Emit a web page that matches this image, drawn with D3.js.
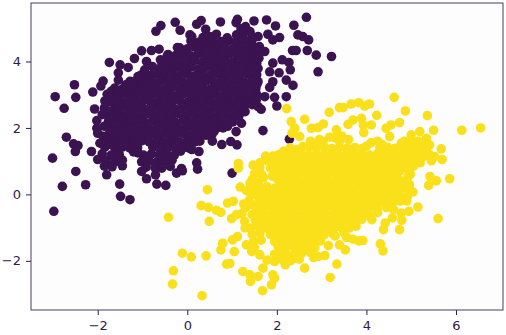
<!DOCTYPE html>
<html>
<head>
<meta charset="utf-8">
<script src="https://cdn.jsdelivr.net/npm/d3@7"></script>
<style>
  html, body { margin: 0; padding: 0; background: #fff; }
  svg { display: block; }
</style>
</head>
<body>
<div id="chart"></div>
<script>
// tick labels
const xTicks = [-2, 0, 2, 4, 6];
const yTicks = [-2, 0, 2, 4];

// class 0, stragglers
const purpleEdge = [
  [-2.95,2.94],[-2.75,2.59],[-2.52,3.30],[-2.49,2.92],[-2.11,3.08],[-2.07,2.57],[-1.88,3.41],[-1.93,3.26],
  [-1.74,3.97],[-1.50,3.90],[-1.54,3.66],[-1.32,3.82],[-1.18,4.09],[-1.02,4.32],[-0.91,4.00],[-0.80,4.33],
  [-0.63,4.37],[-0.70,4.91],[-0.59,5.08],[-0.27,5.18],[-0.16,4.94],[0.21,5.12],[0.31,5.23],[0.41,4.97],
  [0.74,5.19],[1.09,5.17],[1.12,5.27],[0.89,4.71],[0.65,4.82],[0.06,4.80],[-1.24,3.39],[-1.54,3.44],
  [-2.70,1.72],[-2.54,1.52],[-2.44,1.47],[-2.50,1.29],[-3.01,1.09],[-2.14,1.29],[-2.02,1.99],[-2.02,2.22],
  [-1.95,1.54],[-2.00,1.84],[0.56,1.60],[0.77,1.50],[1.11,1.49],[0.97,1.59],[1.09,1.89],[1.21,2.14],
  [1.29,2.49],[0.26,1.29],[0.21,0.95],[-0.13,0.78],[-2.49,0.69],[-2.79,0.24],[-2.27,0.29],[-1.80,0.59],
  [-1.51,0.31],[-1.49,-0.06],[-1.28,-0.16],[-2.98,-0.51],[-0.91,0.47],[-1.02,0.69],[-0.71,0.59],[-0.68,0.31],
  [-0.48,0.27],[-0.57,0.79],[-0.24,0.64],[-0.11,0.71],[0.23,0.76],[1.00,0.64],[2.66,5.33],[1.77,5.25],
  [1.97,5.07],[2.38,5.09],[1.49,5.22],[2.47,4.80],[2.58,4.75],[2.71,4.65],[1.80,4.82],[2.06,4.72],
  [1.91,4.65],[1.58,4.75],[2.35,4.33],[2.43,4.33],[2.68,4.33],[2.88,4.19],[3.22,4.15],[2.92,3.69],
  [1.73,4.30],[1.61,4.45],[2.12,4.05],[1.91,3.95],[2.27,3.97],[2.30,3.75],[2.05,3.66],[1.84,3.69],
  [2.21,3.44],[2.36,3.28],[1.91,3.39],[1.84,3.22],[1.95,2.92],[2.21,2.94],[2.00,2.66],[1.65,2.56],
  [1.69,1.92],[2.28,1.66],[1.54,2.84],[1.58,2.64],[1.73,2.94],[1.50,3.44],[1.50,3.84]
];

// class 0, the solid middle
const purpleCore = [
  [0.08,4.62],[0.25,4.58],[0.42,4.63],[0.59,4.57],[0.76,4.6],[0.93,4.63],[1.1,4.58],[1.27,4.62],[1.44,4.6],
  [-0.17,4.41],[0,4.38],[0.17,4.43],[0.34,4.39],[0.51,4.42],[0.68,4.37],[0.85,4.42],[1.02,4.38],[1.19,4.41],[1.36,4.39],[1.52,4.41],
  [-0.43,4.21],[-0.26,4.18],[-0.09,4.22],[0.08,4.17],[0.25,4.23],[0.42,4.19],[0.59,4.21],[0.76,4.18],[0.93,4.22],[1.1,4.19],[1.27,4.21],[1.44,4.18],[1.56,4.22],
  [-0.51,4.01],[-0.34,3.98],[-0.17,4.02],[0,3.99],[0.17,4.03],[0.34,3.98],[0.51,4.02],[0.68,3.99],[0.85,4.01],[1.02,3.98],[1.19,4.02],[1.36,3.99],[1.52,4.03],
  [-0.6,3.81],[-0.43,3.78],[-0.26,3.82],[-0.09,3.79],[0.08,3.83],[0.25,3.78],[0.42,3.82],[0.59,3.79],[0.76,3.81],[0.93,3.78],[1.1,3.82],[1.27,3.79],[1.44,3.81],[1.58,3.79],
  [-1.02,3.6],[-0.85,3.57],[-0.68,3.62],[-0.51,3.58],[-0.34,3.61],[-0.17,3.58],[0,3.62],[0.17,3.57],[0.34,3.6],[0.51,3.58],[0.68,3.62],[0.85,3.58],[1.02,3.61],[1.19,3.59],[1.36,3.62],[1.54,3.58],
  [-1.28,3.4],[-1.11,3.38],[-0.94,3.42],[-0.77,3.38],[-0.6,3.41],[-0.43,3.38],[-0.26,3.42],[-0.09,3.37],[0.08,3.41],[0.25,3.38],[0.42,3.42],[0.59,3.38],[0.76,3.41],[0.93,3.38],[1.1,3.42],[1.27,3.38],[1.44,3.41],[1.58,3.39],
  [-1.62,3.2],[-1.45,3.17],[-1.28,3.21],[-1.19,3.18],[-1.02,3.22],[-0.85,3.18],[-0.68,3.21],[-0.51,3.17],[-0.34,3.22],[-0.17,3.18],[0,3.21],[0.17,3.18],[0.34,3.22],[0.51,3.17],[0.68,3.21],[0.85,3.18],[1.02,3.22],[1.19,3.18],[1.36,3.21],[1.53,3.18],
  [-1.79,3.01],[-1.62,2.98],[-1.45,3.02],[-1.28,2.97],[-1.11,3.01],[-0.94,2.98],[-0.77,3.02],[-0.6,2.98],[-0.43,3.01],[-0.26,2.97],[-0.09,3.02],[0.08,2.98],[0.25,3.01],[0.42,2.98],[0.59,3.02],[0.76,2.97],[0.93,3.01],[1.1,2.98],[1.27,3.02],[1.44,2.98],[1.55,3.0],
  [-1.84,2.81],[-1.7,2.78],[-1.53,2.82],[-1.36,2.78],[-1.19,2.81],[-1.02,2.77],[-0.85,2.82],[-0.68,2.78],[-0.51,2.81],[-0.34,2.78],[-0.17,2.82],[0,2.77],[0.17,2.81],[0.34,2.78],[0.51,2.82],[0.68,2.78],[0.85,2.81],[1.02,2.78],[1.19,2.82],[1.36,2.79],
  [-1.85,2.6],[-1.62,2.57],[-1.45,2.62],[-1.28,2.58],[-1.11,2.61],[-0.94,2.57],[-0.77,2.62],[-0.6,2.58],[-0.43,2.61],[-0.26,2.57],[-0.09,2.62],[0.08,2.58],[0.25,2.61],[0.42,2.58],[0.59,2.62],[0.76,2.58],[0.93,2.61],[1.1,2.58],[1.18,2.62],
  [-1.8,2.41],[-1.7,2.38],[-1.53,2.42],[-1.36,2.38],[-1.19,2.41],[-1.02,2.37],[-0.85,2.42],[-0.68,2.38],[-0.51,2.41],[-0.34,2.37],[-0.17,2.42],[0,2.38],[0.17,2.41],[0.34,2.37],[0.51,2.4],[0.68,2.38],[0.85,2.41],[1.02,2.38],
  [-1.76,2.2],[-1.62,2.17],[-1.45,2.22],[-1.28,2.18],[-1.11,2.21],[-0.94,2.17],[-0.77,2.22],[-0.6,2.18],[-0.43,2.21],[-0.26,2.17],[-0.09,2.22],[0.08,2.18],[0.25,2.21],[0.42,2.18],[0.59,2.22],[0.76,2.18],[0.93,2.21],[1.02,2.18],
  [-1.74,2.0],[-1.53,1.97],[-1.36,2.02],[-1.19,1.98],[-1.02,2.01],[-0.85,1.97],[-0.68,2.02],[-0.51,1.98],[-0.34,2.01],[-0.17,1.97],[0,2.02],[0.17,1.98],[0.34,2.01],[0.51,1.98],[0.66,2.0],
  [-1.75,1.81],[-1.62,1.78],[-1.45,1.82],[-1.28,1.78],[-1.11,1.81],[-0.94,1.77],[-0.77,1.82],[-0.6,1.78],[-0.43,1.81],[-0.26,1.78],[-0.09,1.82],[0.08,1.78],[0.25,1.81],[0.42,1.78],[0.55,1.8],
  [-1.82,1.6],[-1.53,1.58],[-1.36,1.62],[-1.19,1.58],[-1.02,1.61],[-0.85,1.58],[-0.68,1.62],[-0.51,1.57],[-0.34,1.6],[-0.17,1.57],[0,1.61],[0.17,1.58],[0.28,1.6],
  [-1.84,1.42],[-1.62,1.4],[-1.45,1.42],[-1.28,1.39],[-1.11,1.41],[-0.77,1.42],[-0.6,1.38],[-0.43,1.41],[-0.26,1.38],[-0.09,1.41],[0.04,1.39],
  [-1.9,1.22],[-1.7,1.18],[-1.52,1.2],[-0.98,1.18],[-0.8,1.22],[-0.63,1.19],[-0.46,1.21],[-0.29,1.18],
  [-2.0,1.05],[-1.82,1.01],[-1.62,0.98],[-1.45,1.03],[-1.02,0.98],[-0.85,1.01],[-0.68,0.97],[-0.51,1.0],[-0.34,1.03],
  [-1.85,0.85],[-1.68,0.83],[-1.45,0.86],[-0.92,0.82],[-0.72,0.8],[-0.38,0.84]
];

// class 0, points that close the remaining gaps
const purpleGaps = [
  [-1.55,2.5],[-1.72,2.5],[-1.55,2.3],[-1.72,2.3],[-1.55,2.7],[-1.72,2.9],[-1.55,2.9],[-1.7,3.1],[-1.53,3.1],
  [-1.37,3.1],[-1.37,3.3],[-1.2,3.3],[-1.03,3.5],[-1.7,2.1],[-1.55,2.1],[-1.65,1.9],[-1.48,1.9],[-1.65,1.7],
  [-1.4,1.7],[-1.7,1.5],[-1.45,1.5],[-1.2,1.5],[-1.88,1.75],[-1.85,2.05],[-1.9,2.4],[-1.2,1.28],[-1.1,1.25],
  [0.1,4.75],[0.35,4.72],[0.5,4.75],[1.1,4.8],[1.25,4.85],[1.4,4.9],[1.3,5.05],[1.2,4.98],[1.45,4.75],[1.25,4.7],
  [-0.22,4.42],[-0.6,4.05],[-0.78,3.85],[-0.95,3.75],[-1.1,3.55],[-0.45,4.15],[-0.75,3.65],[-0.15,1.3],[0.1,1.35],
  [0.6,1.9],[0.8,2.0],[0.9,2.05],[1.15,2.35],[1.3,2.7],[1.45,2.7],[1.55,3.3],[1.55,3.6],[1.55,3.95],[1.6,4.1]
];

// class 1, stragglers
const yellowEdge = [
  [2.22,2.58],[2.32,2.19],[2.40,1.99],[2.51,1.74],[2.34,1.84],[2.62,2.26],[2.77,1.99],[2.92,2.01],
  [3.04,2.12],[3.17,2.47],[3.40,2.61],[3.48,2.61],[3.66,2.72],[3.83,2.76],[3.96,2.66],[4.07,2.72],
  [4.23,2.38],[4.62,2.92],[4.87,2.51],[5.36,2.37],[6.13,1.93],[6.55,2.00],[5.50,1.93],[4.74,2.16],
  [4.55,2.09],[4.44,1.99],[4.52,1.74],[3.70,2.24],[3.59,2.11],[3.89,2.29],[3.93,2.09],[4.11,2.09],
  [3.94,1.86],[3.33,1.94],[3.18,1.72],[5.19,1.89],[5.00,1.79],[5.34,1.69],[5.41,1.49],[5.67,1.37],
  [5.52,1.14],[5.69,1.05],[5.45,1.01],[5.04,1.03],[5.15,1.05],[4.96,1.44],[4.78,1.54],[1.91,1.15],
  [1.62,0.95],[2.58,1.44],[2.81,1.54],[3.03,1.59],[5.86,0.47],[5.42,0.54],[5.56,0.41],[5.39,0.27],
  [5.60,-0.73],[5.15,-0.38],[4.95,-0.51],[4.78,-0.56],[4.79,-0.78],[4.74,-1.06],[4.58,-0.71],[4.61,-0.46],
  [4.42,-0.86],[4.38,-1.06],[4.31,-1.49],[4.37,-1.70],[4.12,-0.76],[3.92,-1.39],[3.83,-1.40],[3.70,-1.35],
  [3.56,-1.30],[3.53,-1.67],[3.40,-1.52],[3.15,-1.54],[3.07,-1.84],[2.92,-1.87],[2.82,-1.90],[3.34,-2.10],
  [2.62,-2.22],[3.19,-2.50],[2.19,-2.12],[1.91,-2.42],[1.95,-2.52],[1.88,-2.72],[1.68,-2.90],[1.69,-2.22],
  [1.95,-2.02],[1.58,-2.47],[3.77,-0.96],[3.62,-1.01],[4.92,-0.06],[5.04,0.07],[4.96,0.29],[4.93,0.54],
  [4.74,0.69],[4.93,0.74],[-0.42,-0.69],[0.45,0.14],[0.31,-0.34],[0.47,-0.39],[0.49,-0.81],[0.65,-0.48],
  [0.75,-0.54],[0.90,-0.26],[1.03,-0.21],[0.99,-0.73],[1.10,-0.61],[1.26,-0.29],[1.18,0.22],[1.32,0.11],
  [1.40,0.34],[1.14,0.79],[-0.11,-1.77],[0.09,-1.88],[0.42,-1.85],[-0.31,-2.30],[-0.33,-2.70],[0.33,-3.05],
  [0.79,-1.47],[0.75,-1.67],[1.05,-1.72],[0.88,-2.10],[0.95,-2.08],[1.24,-2.32],[1.40,-2.42],[1.41,-2.62],
  [1.01,-1.37],[1.12,-1.27],[1.29,-1.01],[1.32,-1.52],[1.44,-1.72],[1.14,0.93],[1.47,0.88]
];

// class 1, the solid middle
const yellowCore = [
  [2.72,1.42],[2.89,1.39],[3.06,1.43],[3.23,1.38],[3.4,1.42],[3.57,1.39],[3.74,1.41],[3.9,1.38],[4.3,1.4],[4.47,1.42],[4.64,1.39],[4.81,1.42],[5.02,1.3],
  [2.2,1.22],[2.37,1.19],[2.54,1.23],[2.71,1.18],[2.88,1.22],[3.05,1.19],[3.22,1.23],[3.39,1.18],[3.56,1.22],[3.73,1.19],[3.9,1.21],[4.07,1.18],[4.24,1.22],[4.41,1.19],[4.58,1.21],[4.75,1.18],[4.92,1.22],[5.08,1.2],
  [1.78,1.02],[1.95,0.99],[2.12,1.03],[2.29,0.98],[2.46,1.02],[2.63,0.99],[2.8,1.03],[2.97,0.98],[3.14,1.02],[3.31,0.99],[3.48,1.03],[3.65,0.98],[3.82,1.02],[3.99,0.99],[4.16,1.01],[4.33,0.98],[4.5,1.02],[4.67,0.99],[4.84,1.01],[4.98,0.98],
  [1.62,0.82],[1.86,0.79],[2.03,0.83],[2.2,0.78],[2.37,0.82],[2.54,0.79],[2.71,0.83],[2.88,0.78],[3.05,0.82],[3.22,0.79],[3.39,0.83],[3.56,0.78],[3.73,0.82],[3.9,0.79],[4.07,0.81],[4.24,0.78],[4.41,0.82],[4.58,0.79],[4.75,0.8],
  [1.5,0.62],[1.66,0.6],[1.95,0.63],[2.12,0.58],[2.29,0.62],[2.46,0.59],[2.63,0.63],[2.8,0.58],[2.97,0.62],[3.14,0.59],[3.31,0.63],[3.48,0.58],[3.65,0.62],[3.82,0.59],[3.99,0.61],[4.16,0.58],[4.33,0.62],[4.5,0.59],[4.65,0.61],[4.98,0.6],
  [1.45,0.44],[2.03,0.43],[2.2,0.39],[2.37,0.43],[2.54,0.38],[2.71,0.42],[2.88,0.39],[3.05,0.43],[3.22,0.38],[3.39,0.42],[3.56,0.39],[3.73,0.43],[3.9,0.38],[4.07,0.42],[4.24,0.39],[4.41,0.41],[4.58,0.38],[4.75,0.42],[4.88,0.39],
  [1.45,0.24],[1.6,0.2],[1.78,0.23],[1.95,0.18],[2.12,0.22],[2.29,0.19],[2.46,0.23],[2.63,0.18],[2.8,0.22],[2.97,0.19],[3.14,0.23],[3.31,0.18],[3.48,0.22],[3.65,0.19],[3.82,0.23],[3.99,0.18],[4.16,0.22],[4.33,0.19],[4.5,0.21],[4.67,0.18],[4.85,0.22],
  [1.42,0.02],[1.52,0],[1.69,0.03],[1.86,-0.02],[2.03,0.02],[2.2,-0.01],[2.37,0.03],[2.54,-0.02],[2.71,0.02],[2.88,-0.01],[3.05,0.03],[3.22,-0.02],[3.39,0.02],[3.56,-0.01],[3.73,0.03],[3.9,-0.02],[4.07,0.02],[4.24,-0.01],[4.41,0.01],[4.58,-0.02],[4.75,0.02],
  [1.38,-0.18],[1.6,-0.21],[1.78,-0.17],[1.95,-0.22],[2.12,-0.18],[2.29,-0.21],[2.46,-0.17],[2.63,-0.22],[2.8,-0.18],[2.97,-0.21],[3.14,-0.17],[3.31,-0.22],[3.48,-0.18],[3.65,-0.21],[3.82,-0.17],[3.99,-0.22],[4.16,-0.18],[4.33,-0.21],[4.5,-0.19],[4.6,-0.22],
  [1.3,-0.4],[1.52,-0.38],[1.69,-0.41],[1.86,-0.37],[2.03,-0.42],[2.2,-0.38],[2.37,-0.41],[2.54,-0.37],[2.71,-0.42],[2.88,-0.38],[3.05,-0.41],[3.22,-0.37],[3.39,-0.42],[3.56,-0.38],[3.73,-0.41],[3.9,-0.37],[4.07,-0.4],[4.24,-0.42],
  [1.22,-0.58],[1.45,-0.61],[1.62,-0.57],[1.78,-0.62],[1.95,-0.58],[2.12,-0.61],[2.29,-0.57],[2.46,-0.62],[2.63,-0.58],[2.8,-0.61],[2.97,-0.57],[3.14,-0.62],[3.31,-0.58],[3.48,-0.61],[3.65,-0.57],[3.82,-0.6],[3.98,-0.58],
  [1.28,-0.81],[1.52,-0.78],[1.69,-0.82],[1.86,-0.77],[2.03,-0.81],[2.2,-0.78],[2.37,-0.82],[2.54,-0.77],[2.71,-0.81],[2.88,-0.78],[3.05,-0.82],[3.22,-0.77],[3.39,-0.81],[3.56,-0.78],[3.7,-0.8],
  [1.42,-1.01],[1.6,-0.98],[1.78,-1.02],[1.95,-0.97],[2.12,-1.01],[2.29,-0.98],[2.46,-1.02],[2.63,-0.97],[2.8,-1.01],[2.97,-0.98],[3.14,-1.02],[3.31,-0.98],[3.44,-1.0],
  [1.45,-1.2],[1.62,-1.18],[1.86,-1.21],[2.03,-1.17],[2.2,-1.22],[2.37,-1.18],[2.54,-1.21],[2.71,-1.17],[2.88,-1.2],[3.05,-1.22],[3.24,-1.18],
  [1.48,-1.41],[1.65,-1.38],[1.95,-1.42],[2.12,-1.38],[2.29,-1.41],[2.46,-1.37],[2.63,-1.42],[2.8,-1.38],[2.97,-1.4],
  [1.5,-1.6],[2.03,-1.58],[2.2,-1.61],[2.37,-1.57],[2.54,-1.6],[2.71,-1.58],[2.85,-1.6],
  [1.62,-1.82],[2.05,-1.78],[2.22,-1.81],[2.39,-1.79],[2.56,-1.76],
  [1.78,-1.98],[2.18,-1.96],[2.35,-1.94]
];

// class 1, points that close the remaining gaps
const yellowGaps = [
  [3.3,1.7],[3.45,1.75],[3.6,1.65],[3.4,1.6],[2.75,1.6],[2.95,1.65],[4.1,1.55],[4.25,1.6],[4.35,1.5],[4.0,1.45],
  [4.85,1.6],[5.0,1.6],[5.15,1.6],[5.1,1.45],[5.25,1.5],[5.25,1.3],[5.35,1.4],[5.0,1.3],[5.15,1.25],[5.3,1.15],
  [5.4,1.2],[5.2,0.95],[4.9,1.15],[2.05,1.2],[2.15,1.3],[2.3,1.4],[2.45,1.35],[1.75,1.15],
  [2.5,-1.95],[2.3,-2.0],[2.1,-1.95],[1.95,-1.8],[2.75,-1.75],[2.05,-1.9],
  [3.3,-1.25],[3.5,-1.15],[3.75,-0.82],[3.9,-0.75],[4.05,-0.6],[4.25,-0.55],[4.45,-0.4],[4.75,-0.2],[4.9,-0.2],
  [4.55,-0.1],[4.7,-0.05],[4.75,0.3],[4.95,0.15],[4.88,0.85],[5.05,0.85],[4.75,1.0],[1.7,0.5],[1.9,0.55],[1.58,0.35],[1.42,-0.3]
];

const width = 506;
const height = 335;
const margin = { top: 3, right: 3, bottom: 25, left: 31 };
const inkColor = '#301a4a';

const x = d3.scaleLinear()
  .domain([-3.49, 7.05])
  .range([margin.left, width - margin.right]);

const y = d3.scaleLinear()
  .domain([-3.48, 5.76])
  .range([height - margin.bottom, margin.top]);

const svg = d3.select('#chart').append('svg')
  .attr('width', width)
  .attr('height', height)
  .attr('viewBox', `0 0 ${width} ${height}`);

svg.append('rect')
  .attr('x', margin.left)
  .attr('y', margin.top)
  .attr('width', width - margin.left - margin.right)
  .attr('height', height - margin.top - margin.bottom)
  .attr('fill', '#fdfdfd');

// purple goes first, yellow sits on top of it
const drawPoints = (points, color) => svg.append('g')
  .attr('fill', color)
  .selectAll('circle')
  .data(points)
  .join('circle')
    .attr('cx', d => x(d[0]))
    .attr('cy', d => y(d[1]))
    .attr('r', 4.8);

drawPoints(purpleCore.concat(purpleGaps, purpleEdge), '#3b1350');
drawPoints(yellowCore.concat(yellowGaps, yellowEdge), '#f9e01a');

const styleAxis = g => {
  g.select('.domain').remove();
  g.selectAll('line').attr('stroke', inkColor).attr('stroke-width', 1);
  g.selectAll('text')
    .attr('fill', inkColor)
    .attr('font-family', '"DejaVu Sans", sans-serif')
    .attr('font-size', 13);
};

svg.append('g')
  .attr('transform', `translate(0,${height - margin.bottom})`)
  .call(d3.axisBottom(x).tickValues(xTicks).tickSize(5).tickPadding(6))
  .call(styleAxis);

svg.append('g')
  .attr('transform', `translate(${margin.left},0)`)
  .call(d3.axisLeft(y).tickValues(yTicks).tickSize(5).tickPadding(5))
  .call(styleAxis);

// frame on top of the marks
svg.append('rect')
  .attr('x', margin.left)
  .attr('y', margin.top)
  .attr('width', width - margin.left - margin.right)
  .attr('height', height - margin.top - margin.bottom)
  .attr('fill', 'none')
  .attr('stroke', '#4a3a60')
  .attr('stroke-width', 1);
</script>
</body>
</html>
